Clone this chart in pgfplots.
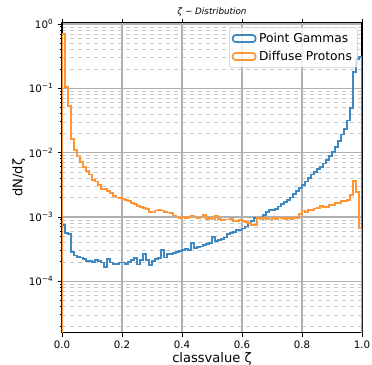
\documentclass[border=0pt]{standalone}
\usepackage{pgfplots}
\usepackage{pgfplotstable}
\pgfplotsset{compat=1.18}
\usepackage{fontspec}
\setmainfont{DejaVu Sans}
\definecolor{mplblue}{HTML}{3F89C0}
\definecolor{mplorange}{HTML}{FF9636}
\definecolor{gridmaj}{HTML}{B0B0B0}
\definecolor{gridmin}{HTML}{C8C8C8}

\pgfplotstableread{
x y
0.00 1.585e-5
0.00 7.59e-4
0.01 5.62e-4
0.02 5.50e-4
0.03 2.82e-4
0.04 2.51e-4
0.05 2.40e-4
0.06 2.34e-4
0.07 2.19e-4
0.08 2.09e-4
0.09 2.04e-4
0.10 2.00e-4
0.11 2.14e-4
0.12 2.04e-4
0.13 1.95e-4
0.14 1.66e-4
0.15 2.19e-4
0.16 1.95e-4
0.17 1.86e-4
0.18 1.86e-4
0.19 1.95e-4
0.20 1.95e-4
0.21 1.86e-4
0.22 2.00e-4
0.23 2.14e-4
0.24 2.29e-4
0.25 1.82e-4
0.26 2.14e-4
0.27 2.63e-4
0.28 2.14e-4
0.29 1.78e-4
0.30 2.04e-4
0.31 2.19e-4
0.32 2.29e-4
0.33 3.09e-4
0.34 2.34e-4
0.35 2.63e-4
0.36 2.63e-4
0.37 2.75e-4
0.38 2.88e-4
0.39 2.95e-4
0.40 3.02e-4
0.41 3.16e-4
0.42 3.09e-4
0.43 3.89e-4
0.44 3.24e-4
0.45 3.39e-4
0.46 3.47e-4
0.47 3.63e-4
0.48 3.80e-4
0.49 3.98e-4
0.50 4.90e-4
0.51 4.17e-4
0.52 4.37e-4
0.53 4.57e-4
0.54 4.79e-4
0.55 5.50e-4
0.56 5.62e-4
0.57 5.89e-4
0.58 6.17e-4
0.59 6.31e-4
0.60 6.61e-4
0.61 7.08e-4
0.62 7.94e-4
0.63 8.71e-4
0.64 9.55e-4
0.65 9.77e-4
0.66 9.77e-4
0.67 1.07e-3
0.68 1.20e-3
0.69 1.29e-3
0.70 1.29e-3
0.71 1.32e-3
0.72 1.45e-3
0.73 1.58e-3
0.74 1.70e-3
0.75 1.82e-3
0.76 2.00e-3
0.77 2.24e-3
0.78 2.51e-3
0.79 2.82e-3
0.80 3.16e-3
0.81 3.55e-3
0.82 3.98e-3
0.83 4.57e-3
0.84 5.01e-3
0.85 5.50e-3
0.86 6.03e-3
0.87 6.76e-3
0.88 7.76e-3
0.89 8.91e-3
0.90 1.02e-2
0.91 1.23e-2
0.92 1.51e-2
0.93 1.91e-2
0.94 2.34e-2
0.95 3.16e-2
0.96 4.90e-2
0.97 0.178
0.98 0.288
0.99 0.302
1.00 0.302
1.00 1.585e-5
}\gammas

\pgfplotstableread{
x y
0.00 1.585e-5
0.00 0.692
0.01 0.106
0.02 0.0537
0.03 0.0162
0.04 0.0110
0.05 0.00871
0.06 0.00724
0.07 0.00603
0.08 0.00513
0.09 0.00457
0.10 0.00372
0.11 0.00355
0.12 0.00316
0.13 0.00275
0.14 0.00269
0.15 0.00251
0.16 0.00234
0.17 0.00214
0.18 0.00200
0.19 0.00195
0.20 0.00191
0.21 0.00182
0.22 0.00178
0.23 0.00162
0.24 0.00158
0.25 0.00148
0.26 0.00141
0.27 0.00138
0.28 0.00132
0.29 0.00120
0.30 0.00117
0.31 0.00126
0.32 0.00129
0.33 0.00126
0.34 0.00120
0.35 0.00117
0.36 0.00115
0.37 0.00105
0.38 0.000977
0.39 0.000955
0.40 0.00100
0.41 0.000955
0.42 0.00100
0.43 0.00105
0.44 0.000977
0.45 0.000955
0.46 0.000977
0.47 0.00107
0.48 0.000933
0.49 0.000955
0.50 0.000912
0.51 0.00102
0.52 0.000933
0.53 0.000891
0.54 0.000912
0.55 0.000912
0.56 0.000933
0.57 0.000871
0.58 0.000871
0.59 0.000891
0.60 0.000871
0.61 0.000832
0.62 0.000794
0.63 0.000741
0.64 0.000759
0.65 0.000955
0.66 0.000912
0.67 0.000955
0.68 0.000933
0.69 0.000912
0.70 0.000955
0.71 0.000933
0.72 0.000977
0.73 0.000955
0.74 0.000933
0.75 0.000955
0.76 0.000933
0.77 0.000955
0.78 0.000955
0.79 0.00112
0.80 0.00126
0.81 0.00120
0.82 0.00129
0.83 0.00129
0.84 0.00135
0.85 0.00138
0.86 0.00148
0.87 0.00141
0.88 0.00141
0.89 0.00155
0.90 0.00155
0.91 0.00162
0.92 0.00162
0.93 0.00174
0.94 0.00174
0.95 0.00182
0.96 0.00219
0.97 0.00363
0.98 0.00245
0.99 0.000661
1.00 0.000661
1.00 1.585e-5
}\protons

\begin{document}
\begin{tikzpicture}
\begin{axis}[
  scale only axis,
  width=225pt, height=232.5pt,
  ymode=log,
  xmin=0, xmax=1, ymin=1.585e-5, ymax=1.047,
  xtick={0,0.2,0.4,0.6,0.8,1.0},
  xticklabels={0.0,0.2,0.4,0.6,0.8,1.0},
  ytick={1e-4,1e-3,1e-2,1e-1,1},
  yticklabels={10\textsuperscript{−4},10\textsuperscript{−3},10\textsuperscript{−2},10\textsuperscript{−1},10\textsuperscript{0}},
  minor ytick={2e-5,3e-5,4e-5,5e-5,6e-5,7e-5,8e-5,9e-5,
    2e-4,3e-4,4e-4,5e-4,6e-4,7e-4,8e-4,9e-4,
    2e-3,3e-3,4e-3,5e-3,6e-3,7e-3,8e-3,9e-3,
    2e-2,3e-2,4e-2,5e-2,6e-2,7e-2,8e-2,9e-2,
    0.2,0.3,0.4,0.5,0.6,0.7,0.8,0.9},
  grid=both,
  major grid style={gridmaj, line width=0.9pt},
  minor grid style={gridmin, dashed, line width=0.5pt},
  tick align=outside,
  xtick pos=both, ytick pos=left,
  major tick length=3pt, minor tick length=1.8pt,
  tick style={black, line width=0.6pt},
  axis line style={black, line width=0.8pt},
  tick label style={font=\fontsize{7.7}{8}\selectfont},
  xlabel={classvalue ζ},
  ylabel={dN/dζ},
  label style={font=\fontsize{9.8}{11}\selectfont},
  xlabel style={yshift=4pt},
  ylabel style={yshift=-4pt},
  title={\itshape ζ − Distribution},
  title style={font=\fontsize{6.6}{7}\selectfont, yshift=-5pt},
  legend style={at={(0.985,0.985)}, anchor=north east, font=\fontsize{9.2}{10.5}\selectfont,
    draw=gridmin, rounded corners=2pt, fill=white, fill opacity=0.8, text opacity=1,
    inner sep=2pt, row sep=1pt},
  legend cell align=left,
  legend image code/.code={\draw[#1, line width=1.3pt] (0pt,-2.6pt) rectangle (17pt,2.6pt);},
  const plot mark left,
]
\addplot[mplblue, line width=1.4pt, no marks] table[x=x, y=y] {\gammas};
\addlegendentry{Point Gammas}
\addplot[mplorange, line width=1.4pt, no marks] table[x=x, y=y] {\protons};
\addlegendentry{Diffuse Protons}
\end{axis}
\pgfresetboundingbox
\path ([xshift=-46.5pt,yshift=-24.2pt]current axis.south west) rectangle ([xshift=7.5pt,yshift=17pt]current axis.north east);
\end{tikzpicture}
\end{document}
